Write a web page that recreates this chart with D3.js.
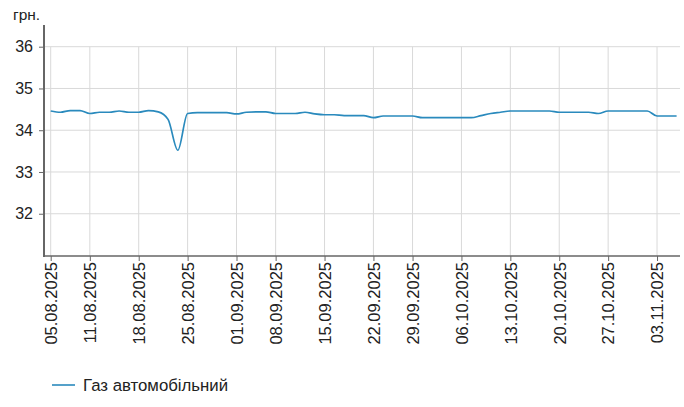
<!DOCTYPE html>
<html><head><meta charset="utf-8">
<script src="https://cdn.jsdelivr.net/npm/d3@7"></script>
<style>body{margin:0;background:#fff}svg{display:block;font-family:Arial,"Liberation Sans",sans-serif}</style>
</head><body><svg id="c" width="684" height="407"></svg>
<script>
const dates = [
"05.08.2025","06.08.2025","07.08.2025","08.08.2025",
"11.08.2025","12.08.2025","13.08.2025","14.08.2025","15.08.2025",
"18.08.2025","19.08.2025","20.08.2025","21.08.2025","22.08.2025",
"25.08.2025","26.08.2025","27.08.2025","28.08.2025","29.08.2025",
"01.09.2025","02.09.2025","03.09.2025","04.09.2025",
"08.09.2025","09.09.2025","10.09.2025","11.09.2025","12.09.2025",
"15.09.2025","16.09.2025","17.09.2025","18.09.2025","19.09.2025",
"22.09.2025","23.09.2025","24.09.2025","25.09.2025",
"29.09.2025","30.09.2025","01.10.2025","02.10.2025","03.10.2025",
"06.10.2025","07.10.2025","08.10.2025","09.10.2025","10.10.2025",
"13.10.2025","14.10.2025","15.10.2025","16.10.2025","17.10.2025",
"20.10.2025","21.10.2025","22.10.2025","23.10.2025","24.10.2025",
"27.10.2025","28.10.2025","29.10.2025","30.10.2025","31.10.2025",
"03.11.2025","04.11.2025","05.11.2025"];
const gasPrices = [
34.46,34.43,34.47,34.47,
34.40,34.43,34.43,34.46,34.43,
34.43,34.47,34.44,34.26,33.52,
34.40,34.42,34.42,34.42,34.42,
34.39,34.43,34.44,34.44,
34.40,34.40,34.40,34.43,34.39,
34.37,34.37,34.35,34.35,34.35,
34.30,34.34,34.34,34.34,
34.34,34.30,34.30,34.30,34.30,
34.30,34.30,34.35,34.40,34.43,
34.46,34.46,34.46,34.46,34.46,
34.43,34.43,34.43,34.43,34.40,
34.46,34.46,34.46,34.46,34.46,
34.34,34.34,34.34];
const tickLabels = ["05.08.2025","11.08.2025","18.08.2025","25.08.2025","01.09.2025","08.09.2025","15.09.2025","22.09.2025","29.09.2025","06.10.2025","13.10.2025","20.10.2025","27.10.2025","03.11.2025"];
const yTicks = [32,33,34,35,36];
const seriesName = "Газ автомобільний";
const unitLabel = "грн.";

const svg = d3.select("#c");
const left = 44, right = 680, bottom = 256, axisTop = 25;
const x = d3.scalePoint().domain(dates).range([50.7, 676.6]);
const y = d3.scaleLinear().domain([31, 36]).range([255.5, 46.7]);

// grid
svg.append("g").selectAll("line").data(yTicks).join("line")
  .attr("x1", left).attr("x2", right).attr("y1", d => y(d)).attr("y2", d => y(d))
  .attr("stroke", "#d9d9d9").attr("stroke-width", 1);
svg.append("g").selectAll("line").data(tickLabels).join("line")
  .attr("x1", d => x(d)).attr("x2", d => x(d)).attr("y1", y(36)).attr("y2", bottom)
  .attr("stroke", "#d9d9d9").attr("stroke-width", 1);

// y axis
const yAxis = svg.append("g").attr("transform", `translate(${left},0)`)
  .call(d3.axisLeft(y).tickValues(yTicks).tickSize(5).tickPadding(6).tickFormat(d3.format("d")));
yAxis.select(".domain").remove();
yAxis.selectAll(".tick line").attr("stroke", "#666");
yAxis.selectAll("text").attr("font-size", 16).attr("fill", "#222").attr("font-family", "Arial, Liberation Sans, sans-serif");
svg.append("line").attr("x1", left).attr("x2", left).attr("y1", axisTop).attr("y2", bottom + 1)
  .attr("stroke", "#666").attr("stroke-width", 2);

// x axis
const xAxis = svg.append("g").attr("transform", `translate(0,${bottom})`)
  .call(d3.axisBottom(x).tickValues(tickLabels).tickSize(5).tickPadding(0));
xAxis.select(".domain").remove();
xAxis.selectAll(".tick line").attr("stroke", "#666");
xAxis.selectAll("text").attr("font-size", 16.5).attr("fill", "#222")
  .attr("font-family", "Arial, Liberation Sans, sans-serif")
  .attr("text-anchor", "end").attr("dy", "0.35em")
  .attr("transform", "translate(0,6) rotate(-90)").attr("x", 0).attr("y", 0);
svg.append("line").attr("x1", left).attr("x2", right).attr("y1", bottom).attr("y2", bottom)
  .attr("stroke", "#666").attr("stroke-width", 1.5);

// unit label
svg.append("text").attr("x", 13).attr("y", 20).attr("font-size", 15.5).attr("fill", "#222").text(unitLabel);

// line
const color = "#2a8abd";
svg.append("path").datum(gasPrices.map((v, i) => [dates[i], v]))
  .attr("fill", "none").attr("stroke", color).attr("stroke-width", 1.7)
  .attr("d", d3.line().x(d => x(d[0])).y(d => y(d[1])).curve(d3.curveMonotoneX));

// legend
svg.append("line").attr("x1", 52).attr("x2", 75).attr("y1", 385).attr("y2", 385)
  .attr("stroke", color).attr("stroke-width", 1.6);
svg.append("text").attr("x", 83).attr("y", 391).attr("font-size", 16.8).attr("fill", "#222").text(seriesName);
</script></body></html>
